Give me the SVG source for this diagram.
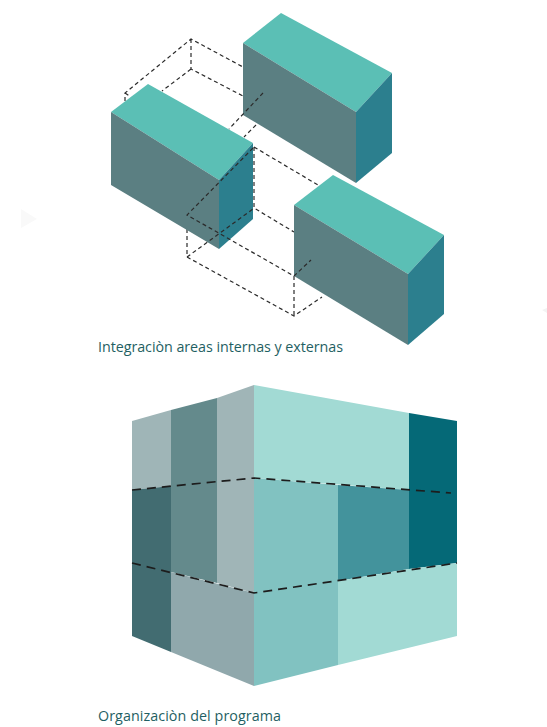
<svg xmlns="http://www.w3.org/2000/svg" width="547" height="727" viewBox="0 0 547 727">
<style>
.top{fill:#5bbfb5}.front{fill:#5b7f82}.side{fill:#2c7f8e}
.d{fill:none;stroke:#2b2b2b;stroke-width:1.2;stroke-dasharray:4 3}
.dd{fill:none;stroke:#1d1d1d;stroke-width:1.7;stroke-dasharray:9 6}
.cap{font-family:"Open Sans","Noto Sans",sans-serif;font-size:14.3px;fill:#1f5f63}
</style>
<rect width="547" height="727" fill="#fff"/>
<polygon points="21,209 37,219 21,228" fill="#f9f9f9"/>
<polygon points="542,310 547,308 547,313" fill="#f3f3f3"/>
<g id="connectors-back">
<path class="d" d="M125 101V93L191 39L243 67M125 93L131 97M191 39V69L243 96M191 69L162 91"/>
<path class="d" d="M254 147V208L294 232M254 147L318 185"/>
<path class="d" d="M187 215V257L294 316L322 297"/>
</g>
<g id="box-top-right">
<polygon class="top" points="243,43 281,13 392,73 356,112"/>
<polygon class="front" points="243,43 356,112 356,183 243,115"/>
<polygon class="side" points="356,112 392,73 392,153 356,183"/>
</g>
<g id="box-left">
<polygon class="top" points="111,112 148,84 253,143 219,180"/>
<polygon class="front" points="111,112 219,180 219,249 111,185"/>
<polygon class="side" points="219,180 253,143 253,219 219,249"/>
</g>
<g id="box-bottom-right">
<polygon class="top" points="294,205 333,175 444,235 408,274"/>
<polygon class="front" points="294,205 408,274 408,345 294,276"/>
<polygon class="side" points="408,274 444,235 444,314 408,345"/>
</g>
<g id="connectors-front">
<path class="d" d="M263 93L229 129M256 125L244 137"/>
<path class="d" d="M253 148L187 215L294 276L311 260M294 276V316M187 257L253 209"/>
</g>
<text class="cap" x="98" y="352" textLength="245">Integraciòn areas internas y externas</text>
<g id="cube">
<polygon fill="#9fb5b7" points="132,421 171,410 171,486 132,490"/>
<polygon fill="#648a8c" points="171,410 217,398 217,583 171,572"/>
<polygon fill="#a0b5b7" points="217,398 254,385 254,593 217,583"/>
<polygon fill="#426c71" points="132,490 171,486 171,652 132,636"/>
<polygon fill="#90a8ac" points="171,572 254,593 254,686 171,652"/>
<polygon fill="#a2dad4" points="254,385 409,413 409,490 254,478"/>
<polygon fill="#056977" points="409,413 457,421 457,563 409,569"/>
<polygon fill="#81c2c1" points="254,478 338,485 338,665 254,686"/>
<polygon fill="#43939c" points="338,485 409,490 409,569 338,581"/>
<polygon fill="#a2dad4" points="338,581 409,569 457,563 457,636 338,665"/>
</g>
<g id="cube-connectors">
<path class="dd" d="M132 490L254 478L451 493"/>
<path class="dd" d="M132 563L254 593L457 563"/>
</g>
<text class="cap" x="98" y="721" textLength="183">Organizaciòn del programa</text>
</svg>
